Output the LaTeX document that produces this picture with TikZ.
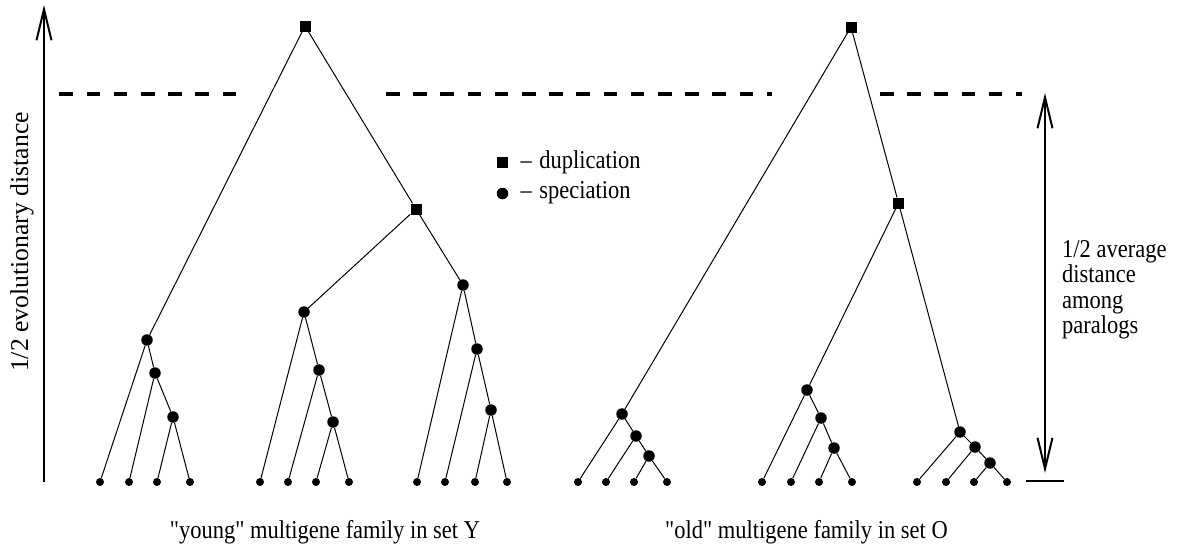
\documentclass[tikz,border=0pt]{standalone}
\usepackage{fontspec}
\setmainfont{Liberation Serif}
\newfontfamily\hfont{Liberation Serif}[FakeStretch=0.875]
\newfontfamily\vfont{Liberation Serif}
\usetikzlibrary{arrows.meta}
\begin{document}
\begin{tikzpicture}[x=1pt,y=-1pt,
  dup/.style={rectangle, fill=black, minimum size=11pt, inner sep=0pt},
  spec/.style={circle, fill=black, minimum size=11.5pt, inner sep=0pt},
  leaf/.style={circle, fill=black, minimum size=8pt, inner sep=0pt},
  branch/.style={line width=1pt},
  guide/.style={line width=4pt, dash pattern=on 13.6pt off 13.6pt},
  axisline/.style={line width=2pt},
  barb/.tip={Straight Barb[length=31pt,width=15pt]},
  lbl/.style={inner sep=0pt, anchor=base west, font=\hfont\fontsize{25.7}{25}\selectfont},
]
\useasboundingbox (0,0) rectangle (1177,547);

% axes
\coordinate (ax0) at (44,482);
\coordinate (ax1) at (44,5);
\draw[axisline, -barb] (ax0) -- (ax1);
\node[inner sep=0pt, anchor=base, rotate=90, font=\vfont\fontsize{25.7}{25}\selectfont] (ylab) at (28,242) {1/2 evolutionary distance};

\coordinate (r0) at (1045,473);
\coordinate (r1) at (1045,93);
\draw[axisline, barb-barb] (r0) -- (r1);
\coordinate (t0) at (1026,481);
\coordinate (t1) at (1064,481);
\draw[axisline] (t0) -- (t1);
\node[lbl] (rl1) at (1062,257) {1/2 average};
\node[lbl] (rl2) at (1062,282.5) {distance};
\node[lbl] (rl3) at (1062,308) {among};
\node[lbl] (rl4) at (1062,333) {paralogs};

% dashed guide
\coordinate (d1a) at (59.3,94.3); \coordinate (d1b) at (236.7,94.3);
\coordinate (d2a) at (386,94.3); \coordinate (d2b) at (772,94.3);
\coordinate (d3a) at (880,94.3); \coordinate (d3b) at (1022,94.3);
\draw[guide] (d1a) -- (d1b);
\draw[guide] (d2a) -- (d2b);
\draw[guide] (d3a) -- (d3b);

% legend
\node[dup] (ld) at (502.5,162.5) {};
\node[spec] (ls) at (502.5,193.5) {};
\node[lbl] (ldt) at (520.5,168) {\textendash\hspace{7.5pt}duplication};
\node[lbl] (lst) at (520.5,198) {\textendash\hspace{7.5pt}speciation};

% young tree
\node[dup] (y0) at (305,26) {};
\node[spec] (y1) at (147,340) {};
\node[spec] (y11) at (155,373) {};
\node[spec] (y111) at (173,417) {};
\node[leaf] (ya) at (100,482) {};
\node[leaf] (yb) at (129,482) {};
\node[leaf] (yc) at (157,482) {};
\node[leaf] (yd) at (190,482) {};
\node[dup] (y2) at (416,209) {};
\node[spec] (y21) at (304,312) {};
\node[spec] (y211) at (319,370) {};
\node[spec] (y2111) at (333,422) {};
\node[leaf] (ye) at (260,482) {};
\node[leaf] (yf) at (288,482) {};
\node[leaf] (yg) at (316,482) {};
\node[leaf] (yh) at (349,482) {};
\node[spec] (y22) at (463,285) {};
\node[spec] (y221) at (477,349) {};
\node[spec] (y2211) at (491,410) {};
\node[leaf] (yi) at (417,482) {};
\node[leaf] (yj) at (445,482) {};
\node[leaf] (yk) at (475,482) {};
\node[leaf] (yl) at (507,482) {};

\draw[branch] (y0) -- (y1) (y0) -- (y2)
  (y1) -- (ya) (y1) -- (y11) (y11) -- (yb) (y11) -- (y111) (y111) -- (yc) (y111) -- (yd)
  (y2) -- (y21) (y2) -- (y22)
  (y21) -- (ye) (y21) -- (y211) (y211) -- (yf) (y211) -- (y2111) (y2111) -- (yg) (y2111) -- (yh)
  (y22) -- (yi) (y22) -- (y221) (y221) -- (yj) (y221) -- (y2211) (y2211) -- (yk) (y2211) -- (yl);

% old tree
\node[dup] (o0) at (851,27) {};
\node[spec] (o1) at (622,414) {};
\node[spec] (o11) at (636,436) {};
\node[spec] (o111) at (649,456) {};
\node[leaf] (oa) at (578,482) {};
\node[leaf] (ob) at (606,482) {};
\node[leaf] (oc) at (634,482) {};
\node[leaf] (od) at (667,482) {};
\node[dup] (o2) at (898.5,203) {};
\node[spec] (o21) at (807,390) {};
\node[spec] (o211) at (821,418) {};
\node[spec] (o2111) at (834,448) {};
\node[leaf] (oe) at (762,482) {};
\node[leaf] (of) at (791,482) {};
\node[leaf] (og) at (819,482) {};
\node[leaf] (oh) at (852,482) {};
\node[spec] (o22) at (960,432) {};
\node[spec] (o221) at (975,447) {};
\node[spec] (o2211) at (990,463) {};
\node[leaf] (oi) at (917,482) {};
\node[leaf] (oj) at (946,482) {};
\node[leaf] (ok) at (974,482) {};
\node[leaf] (ol) at (1007,482) {};

\draw[branch] (o0) -- (o1) (o0) -- (o2)
  (o1) -- (oa) (o1) -- (o11) (o11) -- (ob) (o11) -- (o111) (o111) -- (oc) (o111) -- (od)
  (o2) -- (o21) (o2) -- (o22)
  (o21) -- (oe) (o21) -- (o211) (o211) -- (of) (o211) -- (o2111) (o2111) -- (og) (o2111) -- (oh)
  (o22) -- (oi) (o22) -- (o221) (o221) -- (oj) (o221) -- (o2211) (o2211) -- (ok) (o2211) -- (ol);

% captions
\node[lbl, anchor=base] (cy) at (325,538) {"young" multigene family in set Y};
\node[lbl, anchor=base] (co) at (806.5,538) {"old" multigene family in set O};
\end{tikzpicture}
\end{document}
